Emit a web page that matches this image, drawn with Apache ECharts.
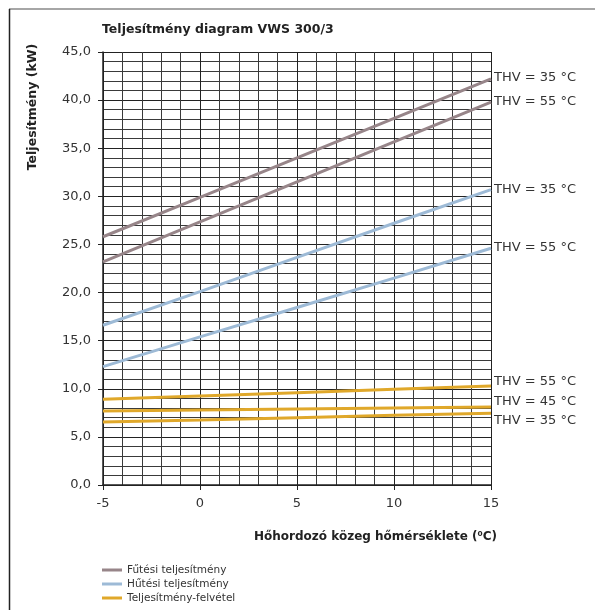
<!DOCTYPE html>
<html>
<head>
<meta charset="utf-8">
<script src="https://cdn.jsdelivr.net/npm/echarts@6/dist/echarts.min.js"></script>
<style>
  html, body { margin: 0; padding: 0; background: #fff; }
  #main { width: 595px; height: 610px; }
</style>
</head>
<body>
<div id="main"></div>
<script>
// hőmérséklet (°C)
var temps = [-5, 0, 5, 10, 15];
// Fűtési teljesítmény
var futes35 = [25.8, 29.9, 34.0, 38.1, 42.2];
var futes55 = [23.2, 27.35, 31.5, 35.65, 39.8];
// Hűtési teljesítmény
var hutes35 = [16.6, 20.1, 23.65, 27.2, 30.7];
var hutes55 = [12.3, 15.4, 18.45, 21.5, 24.6];
// Teljesítmény-felvétel
var felv55 = [8.9, 9.25, 9.6, 9.95, 10.3];
var felv45 = [7.7, 7.8, 7.9, 8.0, 8.1];
var felv35 = [6.55, 6.75, 7.0, 7.25, 7.45];

var xTicks = [-5, 0, 5, 10, 15];
var yTicks = [0, 5, 10, 15, 20, 25, 30, 35, 40, 45];

var myChart = echarts.init(document.getElementById("main"), null, { renderer: "canvas" });

function pairs(vals) {
  return temps.map(function (t, i) { return [t, vals[i]]; });
}

function mkLine(name, vals, color, label, offY) {
  return {
    name: name,
    type: "line",
    data: pairs(vals),
    showSymbol: false,
    symbol: "none",
    color: color,
    lineStyle: { color: color, width: 3 },
    endLabel: {
      show: true,
      formatter: label,
      color: "#333",
      fontFamily: "DejaVu Sans",
      fontSize: 13,
      distance: 3,
      offset: [0, offY],
    },
    z: 3,
  };
}

var tickFont = { fontFamily: "DejaVu Sans", fontSize: 13, color: "#333" };

var option = {
  animation: false,
  backgroundColor: "#fff",
  grid: { left: 103, right: 104, top: 52, height: 433 },
  xAxis: {
    type: "value",
    min: xTicks[0],
    max: xTicks[xTicks.length - 1],
    interval: 5,
    axisLine: { onZero: false, lineStyle: { color: "#222", width: 1.5 } },
    axisTick: { show: true, length: 5, lineStyle: { color: "#222" } },
    axisLabel: Object.assign({ margin: 12 }, tickFont),
    splitLine: { show: true, lineStyle: { color: "#222", width: 1 } },
    minorTick: { show: false, splitNumber: 5 },
    minorSplitLine: { show: true, lineStyle: { color: "#3a3a3a", width: 1 } },
  },
  yAxis: {
    type: "value",
    min: yTicks[0],
    max: yTicks[yTicks.length - 1],
    interval: 5,
    axisLine: { show: true, onZero: false, lineStyle: { color: "#222", width: 1.5 } },
    axisTick: { show: true, length: 5, lineStyle: { color: "#222" } },
    axisLabel: Object.assign({
      margin: 12,
      formatter: function (v) { return v.toFixed(1).replace(".", ","); },
    }, tickFont),
    splitLine: { show: true, lineStyle: { color: "#222", width: 1 } },
    minorTick: { show: false, splitNumber: 5 },
    minorSplitLine: { show: true, lineStyle: { color: "#3a3a3a", width: 1 } },
  },
  legend: {
    orient: "vertical",
    left: 102,
    top: 564,
    padding: 0,
    height: 46,
    itemGap: 2,
    itemWidth: 20,
    itemHeight: 3,
    icon: "rect",
    textStyle: { fontFamily: "DejaVu Sans", fontSize: 10.5, color: "#333", lineHeight: 12 },
    data: ["Fűtési teljesítmény", "Hűtési teljesítmény", "Teljesítmény-felvétel"],
  },
  graphic: [
    { type: "line", shape: { x1: 9, y1: 9, x2: 595, y2: 9 }, style: { stroke: "#888", lineWidth: 1.5 } },
    { type: "line", shape: { x1: 9.5, y1: 9, x2: 9.5, y2: 610 }, style: { stroke: "#222", lineWidth: 1.5 } },
    {
      type: "text", left: 102, top: 23,
      style: { text: "Teljesítmény diagram VWS 300/3", font: "bold 12.5px 'DejaVu Sans'", fill: "#222" },
    },
    {
      type: "text", x: 33, y: 107, rotation: Math.PI / 2,
      style: { text: "Teljesítmény (kW)", font: "bold 12.5px 'DejaVu Sans'", fill: "#222", align: "center", verticalAlign: "middle" },
    },
    {
      type: "text", x: 497, y: 537,
      style: { text: "Hőhordozó közeg hőmérséklete (⁰C)", font: "bold 12px 'DejaVu Sans'", fill: "#222", align: "right", verticalAlign: "middle" },
    },
  ],
  series: [
    mkLine("Fűtési teljesítmény", futes35, "#978589", "THV = 35 °C", -1),
    mkLine("Fűtési teljesítmény", futes55, "#978589", "THV = 55 °C", 0),
    mkLine("Hűtési teljesítmény", hutes35, "#9dbad6", "THV = 35 °C", 0),
    mkLine("Hűtési teljesítmény", hutes55, "#9dbad6", "THV = 55 °C", -1),
    mkLine("Teljesítmény-felvétel", felv55, "#e0a82a", "THV = 55 °C", -4),
    mkLine("Teljesítmény-felvétel", felv45, "#e0a82a", "THV = 45 °C", -5),
    mkLine("Teljesítmény-felvétel", felv35, "#e0a82a", "THV = 35 °C", 7),
  ],
};

myChart.setOption(option);
window.addEventListener("resize", myChart.resize);
</script>
</body>
</html>
